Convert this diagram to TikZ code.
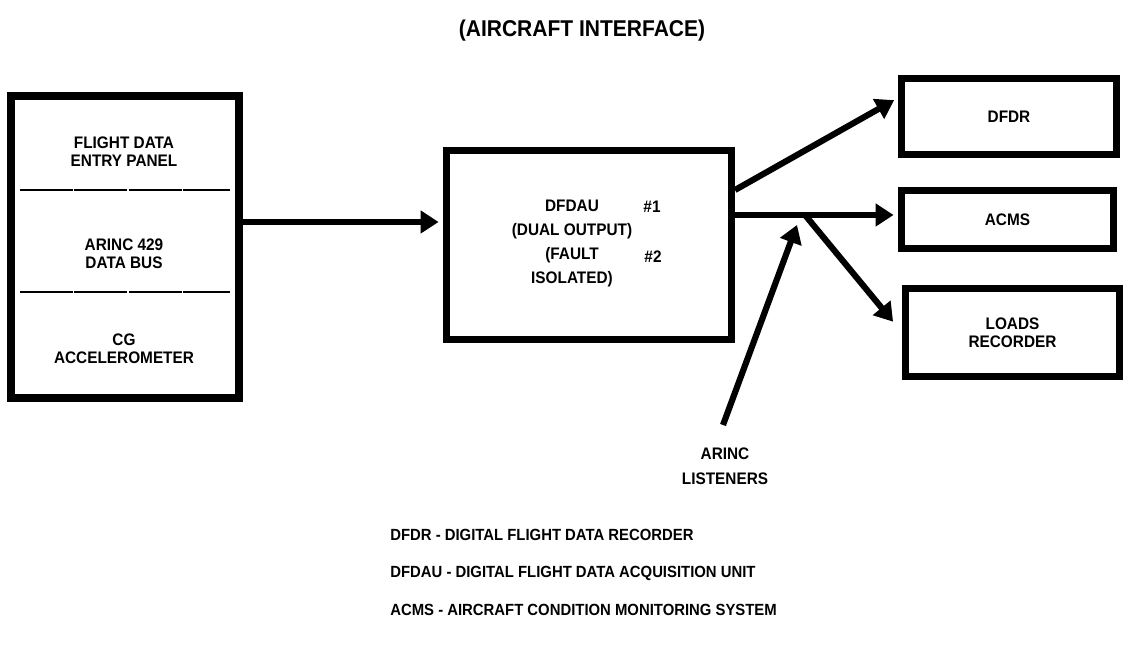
\documentclass[tikz,border=0pt]{standalone}
\usepackage{fontspec}
\setmainfont{Liberation Sans}[FakeStretch=0.92]
\usetikzlibrary{arrows.meta,positioning}
\definecolor{ink}{HTML}{000000}
\tikzset{
  blockbox/.style={draw=ink, line width=4pt, fill=white, inner sep=0pt},
  boxtext/.style={font=\bfseries\fontsize{9.5}{10.5}\selectfont, text=ink, align=center, inner sep=1pt},
  keytext/.style={font=\bfseries\fontsize{9.2}{11}\selectfont, text=ink, anchor=west, inner sep=0pt},
  flow/.style={ink, line width=3.5pt, shorten >=2.5pt, -{Triangle[length=3.6mm,width=4.4mm]}},
  divider/.style={ink, line width=0.7pt, dash pattern=on 30pt off 1pt},
}

\begin{document}
\begin{tikzpicture}[font=\bfseries, line join=miter]
\useasboundingbox (0,0) rectangle (22.54,13.00);

% title
\node[text=ink, font=\bfseries\fontsize{13}{15}\selectfont] (title) at (11.64,12.38) {(AIRCRAFT INTERFACE)};

% ===================== input box =====================
\node[blockbox, minimum width=4.56cm, minimum height=6.04cm] (inbox) at (2.50,8.06) {};
\draw[divider] (0.40,9.20) -- (4.60,9.20);
\draw[divider] (0.40,7.16) -- (4.60,7.16);
\node[boxtext] (entry) at (2.48,9.97) {FLIGHT DATA\\ENTRY PANEL};
\node[boxtext] (bus)   at (2.48,7.92) {ARINC 429\\DATA BUS};
\node[boxtext] (accel) at (2.48,6.02) {CG\\ACCELEROMETER};

% ===================== acquisition unit =====================
\node[blockbox, minimum width=5.70cm, minimum height=3.78cm] (dfdau) at (11.78,8.10) {};
\node[boxtext, font=\bfseries\fontsize{9.5}{13.6}\selectfont] (dfdautxt) at (11.44,8.13)
  {DFDAU\\(DUAL OUTPUT)\\(FAULT\\ISOLATED)};
\node[boxtext] (unit1) at (13.04,8.86) {\#1};
\node[boxtext] (unit2) at (13.06,7.86) {\#2};

% ===================== recorders =====================
\node[blockbox, boxtext, line width=4pt, minimum width=4.30cm, minimum height=1.52cm] (dfdr)  at (20.18,10.67) {DFDR};
\node[blockbox, boxtext, line width=4pt, minimum width=4.24cm, minimum height=1.16cm] (acms)  at (20.15,8.61) {ACMS};
\node[blockbox, boxtext, line width=4pt, minimum width=4.28cm, minimum height=1.76cm] (loads) at (20.25,6.35) {LOADS\\RECORDER};

% ===================== connectors =====================
\draw[flow] ([yshift=5mm]inbox.east) -- ([yshift=5mm]inbox.east -| dfdau.west);
\draw[flow] ([yshift=11mm]dfdau.east) -- ([yshift=3.7mm]dfdr.west);
\draw[flow] ([yshift=6mm]dfdau.east) -- ([yshift=6mm]dfdau.east -| acms.west);
\coordinate (tap) at (16.10,8.70);
\draw[flow, shorten >=0.28cm] (tap) -- (loads.west);

% listeners
\node[boxtext, font=\bfseries\fontsize{9.5}{14}\selectfont] (listen) at (14.50,3.68) {ARINC\\LISTENERS};
\coordinate (lstart) at (14.46,4.50);
\coordinate (ltip) at (15.94,8.50);
\draw[flow, shorten >=0pt] (lstart) -- (ltip);

% ===================== key =====================
\node[keytext] (key1) at (7.80,2.30) {DFDR - DIGITAL FLIGHT DATA RECORDER};
\node[keytext] (key2) at (7.80,1.54) {DFDAU - DIGITAL FLIGHT DATA ACQUISITION UNIT};
\node[keytext] (key3) at (7.80,0.80) {ACMS - AIRCRAFT CONDITION MONITORING SYSTEM};

\end{tikzpicture}
\end{document}
